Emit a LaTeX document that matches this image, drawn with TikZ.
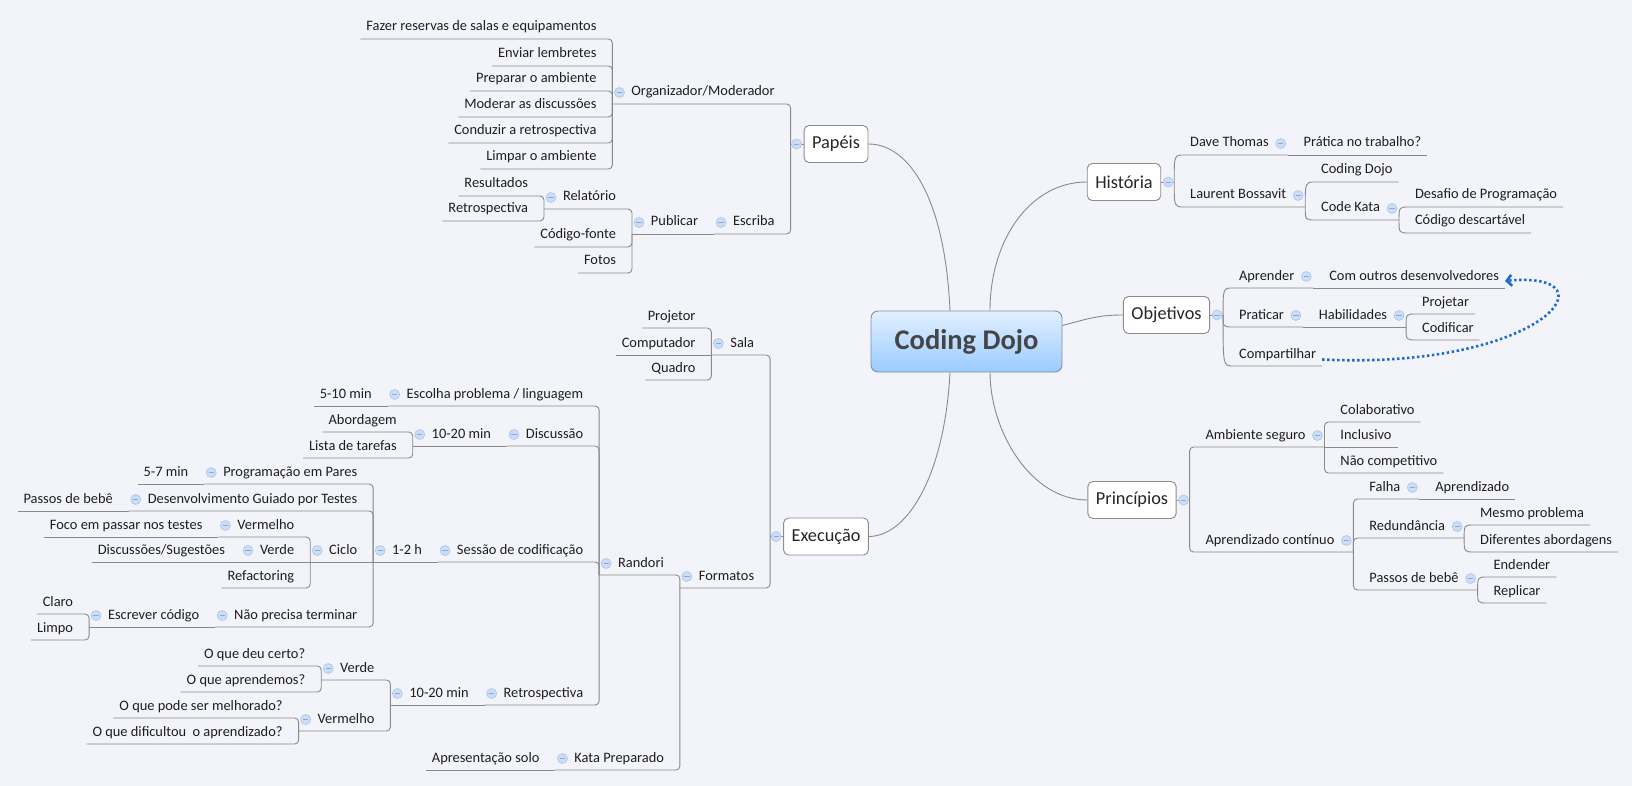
\documentclass[tikz,border=0pt]{standalone}
\usepackage{fontspec}
\setmainfont{Carlito}
\usetikzlibrary{arrows.meta, positioning, calc}
\definecolor{mapBack}{HTML}{F3F4F9}
\definecolor{mapLine}{HTML}{8A8A8A}
\definecolor{mapInk}{HTML}{1E1E1E}
\definecolor{boxLine}{HTML}{8C8C8C}
\definecolor{branchInk}{HTML}{262626}
\definecolor{rootTop}{HTML}{E2F0FF}
\definecolor{rootBottom}{HTML}{9ACBFF}
\definecolor{rootLine}{HTML}{7F8FA0}
\definecolor{rootInk}{HTML}{454545}
\definecolor{toggleFill}{HTML}{CDDDF6}
\definecolor{toggleLine}{HTML}{A8C3EC}
\definecolor{toggleMinus}{HTML}{86A9DF}
\definecolor{relBlue}{HTML}{1B6DD4}

\begin{document}
\begin{tikzpicture}[x=1pt, y=-1pt,
  mapline/.style={draw=mapLine, line width=0.9pt},
  bus/.style={mapline, rounded corners=4pt},
  topic/.style={font=\fontsize{14.4}{17}\selectfont, text=mapInk, outer sep=0pt,
    inner xsep=6pt, inner ysep=4.5pt, text height=10.5pt, text depth=3.5pt},
  ltopic/.style={topic, anchor=south east},
  rtopic/.style={topic, anchor=south west},
  lparent/.style={ltopic, execute at begin node={\kern13pt}},
  rparent/.style={rtopic, execute at end node={\kern13pt}},
  branch/.style={draw=boxLine, fill=white, rounded corners=5pt, line width=0.9pt,
    font=\fontsize{18.3}{22}\selectfont, text=branchInk, inner xsep=8pt,
    minimum height=37pt},
  root/.style={draw=rootLine, line width=0.9pt, rounded corners=7pt,
    top color=rootTop, bottom color=rootBottom, text=rootInk,
    font=\fontsize{28.5}{32}\selectfont\bfseries,
    minimum width=191pt, minimum height=61pt},
  toggle/.style={circle, draw=toggleLine, fill=toggleFill, minimum size=10pt,
    inner sep=0pt, line width=0.6pt,
    path picture={\draw[toggleMinus, line width=0.8pt]
      ([xshift=-2.6pt]path picture bounding box.center) --
      ([xshift=2.6pt]path picture bounding box.center);}},
  relation/.style={draw=relBlue, line width=2.6pt, dash pattern=on 2.4pt off 2.6pt,
    -{Straight Barb[length=5pt, width=11pt]}}
]
\fill[mapBack] (0,0) rectangle (1632,786);
\useasboundingbox (0,0) rectangle (1632,786);

% ── central topic and main branches ──────────────────────────
\node[root]   (dojo)  at (966.5,341.5) {Coding Dojo};
\node[branch] (pap)   at (836,144)     {Papéis};
\node[branch] (exec)  at (826,536.5)   {Execução};
\node[branch] (hist)  at (1124,182)    {História};
\node[branch] (obj)   at (1166.5,315)  {Objetivos};
\node[branch] (princ) at (1132,500)    {Princípios};

\coordinate (papJ)   at ([xshift=-13pt]pap.west);
\coordinate (execJ)  at ([xshift=-13pt]exec.west);
\coordinate (histJ)  at ([xshift=13pt]hist.east);
\coordinate (objJ)   at ([xshift=13pt]obj.east);
\coordinate (princJ) at ([xshift=13pt]princ.east);

\draw[mapline] ([xshift=-16.5pt]dojo.north) .. controls (945,200) and (910,144) .. (pap.east);
\draw[mapline] ([xshift=23.5pt]dojo.north) .. controls (990,240) and (1030,182) .. (hist.west);
\draw[mapline] ([yshift=16pt]dojo.east) .. controls (1090,318) and (1100,315) .. (obj.west);
\draw[mapline] ([xshift=23.5pt]dojo.south) .. controls (990,430) and (1030,500) .. (princ.west);
\draw[mapline] ([xshift=-16.5pt]dojo.south) .. controls (945,470) and (910,536) .. (exec.east);

% ── Papéis ───────────────────────────────────────────────────
\node[lparent] (org)    at ([shift={(-10,-40)}]papJ) {Organizador/Moderador};
\node[lparent] (escr)   at ([shift={(-10,90)}]papJ)  {Escriba};
\node[ltopic]  (fazer)  at ([shift={(-10,-65)}]org.south west) {Fazer reservas de salas e equipamentos};
\node[ltopic]  (enviar) at ([shift={(-10,-38)}]org.south west) {Enviar lembretes};
\node[ltopic]  (prep)   at ([shift={(-10,-13)}]org.south west) {Preparar o ambiente};
\node[ltopic]  (moder)  at ([shift={(-10,13)}]org.south west)  {Moderar as discussões};
\node[ltopic]  (cond)   at ([shift={(-10,39)}]org.south west)  {Conduzir a retrospectiva};
\node[ltopic]  (limpar) at ([shift={(-10,65)}]org.south west)  {Limpar o ambiente};
\node[lparent] (publ)   at ([xshift=-10pt]escr.south west) {Publicar};
\node[lparent] (relat)  at ([shift={(-10,-25)}]publ.south west) {Relatório};
\node[ltopic]  (codf)   at ([shift={(-10,13)}]publ.south west)  {Código-fonte};
\node[ltopic]  (fotos)  at ([shift={(-10,39)}]publ.south west)  {Fotos};
\node[ltopic]  (result) at ([shift={(-10,-13)}]relat.south west) {Resultados};
\node[ltopic]  (retro)  at ([shift={(-10,12)}]relat.south west)  {Retrospectiva};

% ── Execução ─────────────────────────────────────────────────
\node[lparent] (sala)     at ([shift={(-10,-181.5)}]execJ) {Sala};
\node[lparent] (formt)    at ([shift={(-10,51.5)}]execJ)   {Formatos};
\node[ltopic]  (proj)     at ([shift={(-10,-27)}]sala.south west) {Projetor};
\node[ltopic]  (compu)    at ([xshift=-10pt]sala.south west)      {Computador};
\node[ltopic]  (quad)     at ([shift={(-10,25)}]sala.south west)  {Quadro};
\node[lparent] (rand)     at ([shift={(-10,-13)}]formt.south west) {Randori};
\node[lparent] (kata)     at ([shift={(-10,182)}]formt.south west) {Kata Preparado};
\node[ltopic]  (solo)     at ([xshift=-10pt]kata.south west) {Apresentação solo};
\node[lparent] (escolha)  at ([shift={(-10,-169)}]rand.south west) {Escolha problema / linguagem};
\node[ltopic]  (min510)   at ([xshift=-10pt]escolha.south west) {5-10 min};
\node[lparent] (discus)   at ([shift={(-10,-129)}]rand.south west) {Discussão};
\node[lparent] (disctime) at ([xshift=-10pt]discus.south west) {10-20 min};
\node[ltopic]  (abord)    at ([shift={(-10,-14)}]disctime.south west) {Abordagem};
\node[ltopic]  (lista)    at ([shift={(-10,12)}]disctime.south west)  {Lista de tarefas};
\node[lparent] (sessao)   at ([shift={(-10,-13)}]rand.south west) {Sessão de codificação};
\node[lparent] (sesstime) at ([xshift=-10pt]sessao.south west) {1-2 h};
\node[lparent] (pares)    at ([shift={(-10,-78)}]sesstime.south west) {Programação em Pares};
\node[ltopic]  (min57)    at ([xshift=-10pt]pares.south west) {5-7 min};
\node[lparent] (tdd)      at ([shift={(-10,-51)}]sesstime.south west) {Desenvolvimento Guiado por Testes};
\node[ltopic]  (bebe)     at ([xshift=-10pt]tdd.south west) {Passos de bebê};
\node[lparent] (ciclo)    at ([xshift=-10pt]sesstime.south west) {Ciclo};
\node[lparent] (verm)     at ([shift={(-10,-25)}]ciclo.south west) {Vermelho};
\node[ltopic]  (foco)     at ([xshift=-10pt]verm.south west) {Foco em passar nos testes};
\node[lparent] (verde)    at ([xshift=-10pt]ciclo.south west) {Verde};
\node[ltopic]  (sugest)   at ([xshift=-10pt]verde.south west) {Discussões/Sugestões};
\node[ltopic]  (refac)    at ([shift={(-10,26)}]ciclo.south west) {Refactoring};
\node[lparent] (naoprec)  at ([shift={(-10,65)}]sesstime.south west) {Não precisa terminar};
\node[lparent] (escrev)   at ([xshift=-10pt]naoprec.south west) {Escrever código};
\node[ltopic]  (claro)    at ([shift={(-10,-13)}]escrev.south west) {Claro};
\node[ltopic]  (limpo)    at ([shift={(-10,13)}]escrev.south west)  {Limpo};
\node[lparent] (retrosp)  at ([shift={(-10,130)}]rand.south west) {Retrospectiva};
\node[lparent] (rettime)  at ([xshift=-10pt]retrosp.south west) {10-20 min};
\node[lparent] (verdeb)   at ([shift={(-10,-25)}]rettime.south west) {Verde};
\node[lparent] (vermb)    at ([shift={(-10,26)}]rettime.south west)  {Vermelho};
\node[ltopic]  (certo)    at ([shift={(-10,-14)}]verdeb.south west) {O que deu certo?};
\node[ltopic]  (aprendemos) at ([shift={(-10,12)}]verdeb.south west) {O que aprendemos?};
\node[ltopic]  (melhor)   at ([shift={(-10,-13)}]vermb.south west) {O que pode ser melhorado?};
\node[ltopic]  (dific)    at ([shift={(-10,13)}]vermb.south west)  {O que dificultou\ \ o aprendizado?};

% ── História ─────────────────────────────────────────────────
\node[rparent] (dave)    at ([shift={(10,-27)}]histJ) {Dave Thomas};
\node[rparent] (laur)    at ([shift={(10,25)}]histJ)  {Laurent Bossavit};
\node[rtopic]  (pratica) at ([xshift=10pt]dave.south east) {Prática no trabalho?};
\node[rtopic]  (cdojo)   at ([shift={(10,-25)}]laur.south east) {Coding Dojo};
\node[rparent] (ckata)   at ([shift={(10,13)}]laur.south east)  {Code Kata};
\node[rtopic]  (desaf)   at ([shift={(10,-13)}]ckata.south east) {Desafio de Programação};
\node[rtopic]  (descart) at ([shift={(10,13)}]ckata.south east)  {Código descartável};

% ── Objetivos ────────────────────────────────────────────────
\node[rparent] (apr)       at ([shift={(10,-27)}]objJ) {Aprender};
\node[rparent] (prat)      at ([shift={(10,12)}]objJ)  {Praticar};
\node[rtopic]  (compart)   at ([shift={(10,51)}]objJ)  {Compartilhar};
\node[rtopic]  (outros)    at ([xshift=10pt]apr.south east) {Com outros desenvolvedores};
\node[rparent] (habil)     at ([xshift=10pt]prat.south east) {Habilidades};
\node[rtopic]  (projetar)  at ([shift={(10,-13)}]habil.south east) {Projetar};
\node[rtopic]  (codificar) at ([shift={(10,13)}]habil.south east)  {Codificar};

% ── Princípios ───────────────────────────────────────────────
\node[rparent] (amb)      at ([shift={(10,-53)}]princJ) {Ambiente seguro};
\node[rparent] (aprc)     at ([shift={(10,52)}]princJ)  {Aprendizado contínuo};
\node[rtopic]  (colab)    at ([shift={(10,-25)}]amb.south east) {Colaborativo};
\node[rtopic]  (incl)     at ([xshift=10pt]amb.south east)      {Inclusivo};
\node[rtopic]  (naocomp)  at ([shift={(10,26)}]amb.south east)  {Não competitivo};
\node[rparent] (falha)    at ([shift={(10,-53)}]aprc.south east) {Falha};
\node[rparent] (redund)   at ([shift={(10,-14)}]aprc.south east) {Redundância};
\node[rparent] (passos)   at ([shift={(10,38)}]aprc.south east)  {Passos de bebê};
\node[rtopic]  (aprendz)  at ([xshift=10pt]falha.south east) {Aprendizado};
\node[rtopic]  (mesmo)    at ([shift={(10,-13)}]redund.south east) {Mesmo problema};
\node[rtopic]  (difer)    at ([shift={(10,14)}]redund.south east)  {Diferentes abordagens};
\node[rtopic]  (endender) at ([shift={(10,-13)}]passos.south east) {Endender};
\node[rtopic]  (replicar) at ([shift={(10,13)}]passos.south east)  {Replicar};

% ── Connectors (left side) ───────────────────────────────────
\draw[mapline] (pap.west) -- (papJ);
\draw[mapline] (exec.west) -- (execJ);
\foreach \ch in {org, escr} \draw[bus] (papJ) |- (\ch.south west);
\foreach \ch in {fazer, enviar, prep, moder, cond, limpar}
  \draw[bus] (org.south west) |- (\ch.south west);
\foreach \ch in {relat, codf, fotos} \draw[bus] (publ.south west) |- (\ch.south west);
\foreach \ch in {result, retro} \draw[bus] (relat.south west) |- (\ch.south west);
\foreach \ch in {sala, formt} \draw[bus] (execJ) |- (\ch.south west);
\foreach \ch in {proj, quad} \draw[bus] (sala.south west) |- (\ch.south west);
\foreach \ch in {rand, kata} \draw[bus] (formt.south west) |- (\ch.south west);
\foreach \ch in {escolha, discus, sessao, retrosp} \draw[bus] (rand.south west) |- (\ch.south west);
\foreach \ch in {abord, lista} \draw[bus] (disctime.south west) |- (\ch.south west);
\foreach \ch in {pares, tdd, naoprec} \draw[bus] (sesstime.south west) |- (\ch.south west);
\foreach \ch in {verm, refac} \draw[bus] (ciclo.south west) |- (\ch.south west);
\foreach \ch in {claro, limpo} \draw[bus] (escrev.south west) |- (\ch.south west);
\foreach \ch in {verdeb, vermb} \draw[bus] (rettime.south west) |- (\ch.south west);
\foreach \ch in {certo, aprendemos} \draw[bus] (verdeb.south west) |- (\ch.south west);
\foreach \ch in {melhor, dific} \draw[bus] (vermb.south west) |- (\ch.south west);
\foreach \pa/\ch in {escr/publ, sala/compu, kata/solo, escolha/min510, discus/disctime,
    sessao/sesstime, pares/min57, tdd/bebe, sesstime/ciclo, verm/foco, ciclo/verde,
    verde/sugest, naoprec/escrev, retrosp/rettime}
  \draw[mapline] (\pa.south west) -- (\ch.south west);

% ── Connectors (right side) ──────────────────────────────────
\draw[mapline] (hist.east) -- (histJ);
\draw[mapline] (obj.east) -- (objJ);
\draw[mapline] (princ.east) -- (princJ);
\foreach \ch in {dave, laur}
  \draw[mapline] (histJ) .. controls (histJ |- \ch.south west) .. (\ch.south west) -- (\ch.south east);
\foreach \ch in {cdojo, ckata}
  \draw[mapline] (laur.south east) .. controls (laur.south east |- \ch.south west) .. (\ch.south west) -- (\ch.south east);
\foreach \ch in {desaf, descart}
  \draw[mapline] (ckata.south east) .. controls (ckata.south east |- \ch.south west) .. (\ch.south west) -- (\ch.south east);
\foreach \ch in {apr, prat, compart}
  \draw[mapline] (objJ) .. controls (objJ |- \ch.south west) .. (\ch.south west) -- (\ch.south east);
\foreach \ch in {projetar, codificar}
  \draw[mapline] (habil.south east) .. controls (habil.south east |- \ch.south west) .. (\ch.south west) -- (\ch.south east);
\foreach \ch in {mesmo, difer}
  \draw[mapline] (redund.south east) .. controls (redund.south east |- \ch.south west) .. (\ch.south west) -- (\ch.south east);
\foreach \ch in {endender, replicar}
  \draw[mapline] (passos.south east) .. controls (passos.south east |- \ch.south west) .. (\ch.south west) -- (\ch.south east);
\foreach \ch in {amb, aprc} \draw[bus] (princJ) |- (\ch.south east);
\foreach \ch in {colab, naocomp} \draw[bus] (amb.south east) |- (\ch.south east);
\foreach \ch in {falha, redund, passos} \draw[bus] (aprc.south east) |- (\ch.south east);
\foreach \pa/\ch in {dave/pratica, apr/outros, prat/habil, amb/incl, falha/aprendz}
  \draw[mapline] (\pa.south east) -- (\ch.south east);

% ── Relationship: Compartilhar -> Com outros desenvolvedores ─
\draw[relation] ([yshift=-5pt]compart.east) .. controls (1545,370) and (1618,270) .. ([yshift=-4.5pt]outros.east);

% ── Collapse toggles ──────────────────────────────────────────
\foreach \n in {org, escr, publ, relat, sala, formt, rand, kata, escolha, discus, disctime,
    sessao, sesstime, pares, tdd, ciclo, verm, verde, naoprec, escrev, retrosp, rettime,
    verdeb, vermb}
  \node[toggle] (tg\n) at ([xshift=7pt]\n.west) {};
\foreach \n in {dave, laur, ckata, apr, prat, habil, amb, aprc, falha, redund, passos}
  \node[toggle] (tg\n) at ([xshift=-7pt]\n.east) {};
\foreach \n in {pap, exec} \node[toggle] (tg\n) at ([xshift=-7pt]\n.west) {};
\foreach \n in {hist, obj, princ} \node[toggle] (tg\n) at ([xshift=7pt]\n.east) {};
\end{tikzpicture}
\end{document}
